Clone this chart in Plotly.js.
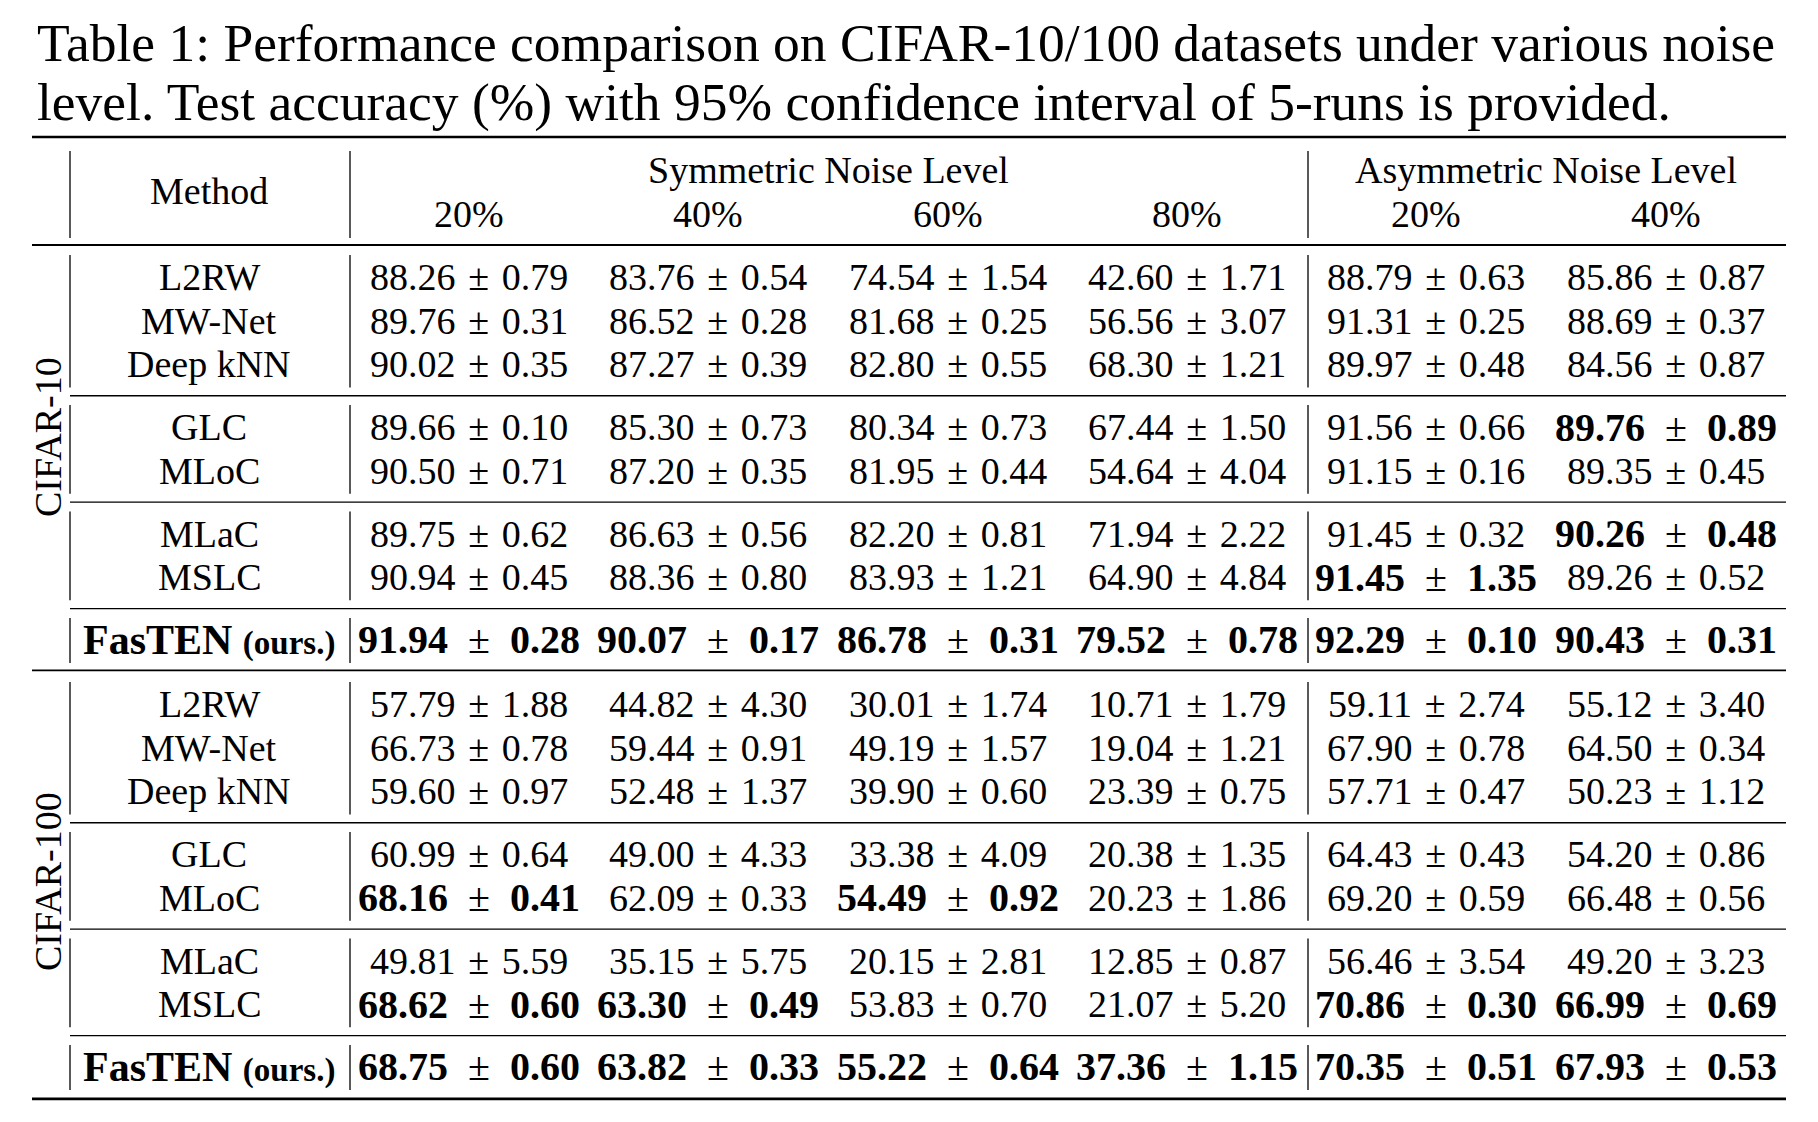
<!DOCTYPE html>
<html><head><meta charset="utf-8">
<script src="https://cdn.plot.ly/plotly-3.0.1.min.js"></script>
<style>html,body{margin:0;padding:0;background:#fff;}#chart{width:1818px;height:1122px;}</style>
</head><body><div id="chart"></div>
<script>
// ---------- data ----------
const captionLines = [
  "Table 1: Performance comparison on CIFAR-10/100 datasets under various noise",
  "level. Test accuracy (%) with 95% confidence interval of 5-runs is provided."
];
const datasets = ["CIFAR-10", "CIFAR-100"];
const methodHeader = "Method";
const noiseGroups = ["Symmetric Noise Level", "Asymmetric Noise Level"];
const noiseGroupCols = [[0, 3], [4, 5]];
const noiseLevels = ["20%", "40%", "60%", "80%", "20%", "40%"];
const methods = ["L2RW", "MW-Net", "Deep kNN", "GLC", "MLoC", "MLaC", "MSLC", "FasTEN"];
const methodGroups = [0, 0, 0, 1, 1, 2, 2, 3];
const oursSuffix = "(ours.)";

const cifar10Mean = [
  [88.26, 83.76, 74.54, 42.60, 88.79, 85.86],
  [89.76, 86.52, 81.68, 56.56, 91.31, 88.69],
  [90.02, 87.27, 82.80, 68.30, 89.97, 84.56],
  [89.66, 85.30, 80.34, 67.44, 91.56, 89.76],
  [90.50, 87.20, 81.95, 54.64, 91.15, 89.35],
  [89.75, 86.63, 82.20, 71.94, 91.45, 90.26],
  [90.94, 88.36, 83.93, 64.90, 91.45, 89.26],
  [91.94, 90.07, 86.78, 79.52, 92.29, 90.43]
];
const cifar10CI = [
  [0.79, 0.54, 1.54, 1.71, 0.63, 0.87],
  [0.31, 0.28, 0.25, 3.07, 0.25, 0.37],
  [0.35, 0.39, 0.55, 1.21, 0.48, 0.87],
  [0.10, 0.73, 0.73, 1.50, 0.66, 0.89],
  [0.71, 0.35, 0.44, 4.04, 0.16, 0.45],
  [0.62, 0.56, 0.81, 2.22, 0.32, 0.48],
  [0.45, 0.80, 1.21, 4.84, 1.35, 0.52],
  [0.28, 0.17, 0.31, 0.78, 0.10, 0.31]
];
const cifar10Bold = [
  [0, 0, 0, 0, 0, 0],
  [0, 0, 0, 0, 0, 0],
  [0, 0, 0, 0, 0, 0],
  [0, 0, 0, 0, 0, 1],
  [0, 0, 0, 0, 0, 0],
  [0, 0, 0, 0, 0, 1],
  [0, 0, 0, 0, 1, 0],
  [1, 1, 1, 1, 1, 1]
];
const cifar100Mean = [
  [57.79, 44.82, 30.01, 10.71, 59.11, 55.12],
  [66.73, 59.44, 49.19, 19.04, 67.90, 64.50],
  [59.60, 52.48, 39.90, 23.39, 57.71, 50.23],
  [60.99, 49.00, 33.38, 20.38, 64.43, 54.20],
  [68.16, 62.09, 54.49, 20.23, 69.20, 66.48],
  [49.81, 35.15, 20.15, 12.85, 56.46, 49.20],
  [68.62, 63.30, 53.83, 21.07, 70.86, 66.99],
  [68.75, 63.82, 55.22, 37.36, 70.35, 67.93]
];
const cifar100CI = [
  [1.88, 4.30, 1.74, 1.79, 2.74, 3.40],
  [0.78, 0.91, 1.57, 1.21, 0.78, 0.34],
  [0.97, 1.37, 0.60, 0.75, 0.47, 1.12],
  [0.64, 4.33, 4.09, 1.35, 0.43, 0.86],
  [0.41, 0.33, 0.92, 1.86, 0.59, 0.56],
  [5.59, 5.75, 2.81, 0.87, 3.54, 3.23],
  [0.60, 0.49, 0.70, 5.20, 0.30, 0.69],
  [0.60, 0.33, 0.64, 1.15, 0.51, 0.53]
];
const cifar100Bold = [
  [0, 0, 0, 0, 0, 0],
  [0, 0, 0, 0, 0, 0],
  [0, 0, 0, 0, 0, 0],
  [0, 0, 0, 0, 0, 0],
  [1, 0, 1, 0, 0, 0],
  [0, 0, 0, 0, 0, 0],
  [1, 1, 0, 0, 1, 1],
  [1, 1, 1, 1, 1, 1]
];

// ---------- layout geometry (pixels) ----------
const W = 1818, H = 1122;
const FONT = "Liberation Serif, Times New Roman, serif";
const BASE = 38, BOLD = 40, OURS_MAIN = 42, OURS_SUFFIX = 33;
const colX = [469, 708, 948, 1187, 1426, 1666];
const methodX = 209;
const tableLeft = 32, tableRight = 1786, innerLeft = 70;
const vLinesX = [70, 350, 1308];
const datasetFirstRowY = [277, 704];
const rowPitch = 43.7, groupGap = 19;
const datasetLabelX = 48, datasetLabelY = [437, 882];
const captionX = 35, captionY = [43, 102];
const headerTopY = 170, headerBottomY = 214, methodHeaderY = 191;
const topRuleY = 137, headerRuleY = 245;

const tableData = [
  {mean: cifar10Mean, ci: cifar10CI, bold: cifar10Bold},
  {mean: cifar100Mean, ci: cifar100CI, bold: cifar100Bold}
];

const annotations = [];
const shapes = [];
function txt(x, y, text, size, opts) {
  annotations.push(Object.assign({
    x: x, y: y, xref: 'x', yref: 'y', text: text, showarrow: false,
    xanchor: 'center', yanchor: 'middle',
    font: {family: FONT, size: size, color: '#000'}
  }, opts || {}));
}
function hline(y, x0, x1, w) {
  shapes.push({type: 'line', xref: 'x', yref: 'y', x0: x0, x1: x1, y0: y, y1: y,
    line: {color: '#000', width: w}});
}
function vline(x, y0, y1, w) {
  shapes.push({type: 'line', xref: 'x', yref: 'y', x0: x, x1: x, y0: y0, y1: y1,
    line: {color: '#000', width: w}});
}

// caption
captionLines.forEach((t, i) => txt(captionX, captionY[i], t, 53.5, {xanchor: 'left'}));

// header
hline(topRuleY, tableLeft, tableRight, 2.6);
txt(methodX, methodHeaderY, methodHeader, BASE);
noiseGroups.forEach((g, i) => {
  const [a, b] = noiseGroupCols[i];
  txt((colX[a] + colX[b]) / 2, headerTopY, g, BASE);
});
noiseLevels.forEach((l, j) => txt(colX[j], headerBottomY, l, BASE));
vLinesX.forEach(x => vline(x, 151, 238, 1.3));
hline(headerRuleY, tableLeft, tableRight, 1.8);

function cellText(m, c, b) {
  const a = m.toFixed(2), e = c.toFixed(2);
  return b ? '<b>' + a + '</b>\u2002\u00b1\u2002<b>' + e + '</b>'
           : a + '\u2004\u00b1\u2004' + e;
}

tableData.forEach((ds, d) => {
  const rowY = methods.map((m, i) => datasetFirstRowY[d] + i * rowPitch + methodGroups[i] * groupGap);
  // dataset label
  txt(datasetLabelX, datasetLabelY[d], datasets[d], BASE, {textangle: -90});
  // rows
  methods.forEach((m, i) => {
    const isOurs = i === methods.length - 1;
    const label = isOurs
      ? '<b>' + m + '</b> <span style="font-size:' + OURS_SUFFIX + 'px"><b>' + oursSuffix + '</b></span>'
      : m;
    txt(methodX, rowY[i], label, isOurs ? OURS_MAIN : BASE);
    ds.mean[i].forEach((v, j) => {
      const b = ds.bold[i][j];
      txt(colX[j], rowY[i], cellText(v, ds.ci[i][j], b), b ? BOLD : BASE);
    });
  });
  // group separators and vertical lines
  const nGroups = Math.max(...methodGroups) + 1;
  for (let g = 0; g < nGroups; g++) {
    const idx = methodGroups.map((v, i) => v === g ? i : -1).filter(i => i >= 0);
    const yTop = rowY[idx[0]] - 22, yBot = rowY[idx[idx.length - 1]] + 23;
    vLinesX.forEach(x => vline(x, yTop, yBot, 1.3));
    if (g < nGroups - 1) {
      const ySep = (rowY[idx[idx.length - 1]] + rowY[idx[idx.length - 1] + 1]) / 2;
      hline(ySep, innerLeft, tableRight, 1.3);
    }
  }
  const lastY = rowY[rowY.length - 1];
  if (d < tableData.length - 1) hline(lastY + 30.5, tableLeft, tableRight, 1.8);
  else hline(lastY + 32, tableLeft, tableRight, 2.6);
});

const layout = {
  width: W, height: H,
  margin: {l: 0, r: 0, t: 0, b: 0, pad: 0},
  paper_bgcolor: '#fff', plot_bgcolor: '#fff',
  showlegend: false,
  xaxis: {range: [0, W], visible: false, fixedrange: true},
  yaxis: {range: [H, 0], visible: false, fixedrange: true},
  annotations: annotations,
  shapes: shapes
};
Plotly.newPlot('chart', [{type: 'scatter', x: [], y: [], hoverinfo: 'skip', showlegend: false}], layout,
  {staticPlot: true, displayModeBar: false});
</script></body></html>
